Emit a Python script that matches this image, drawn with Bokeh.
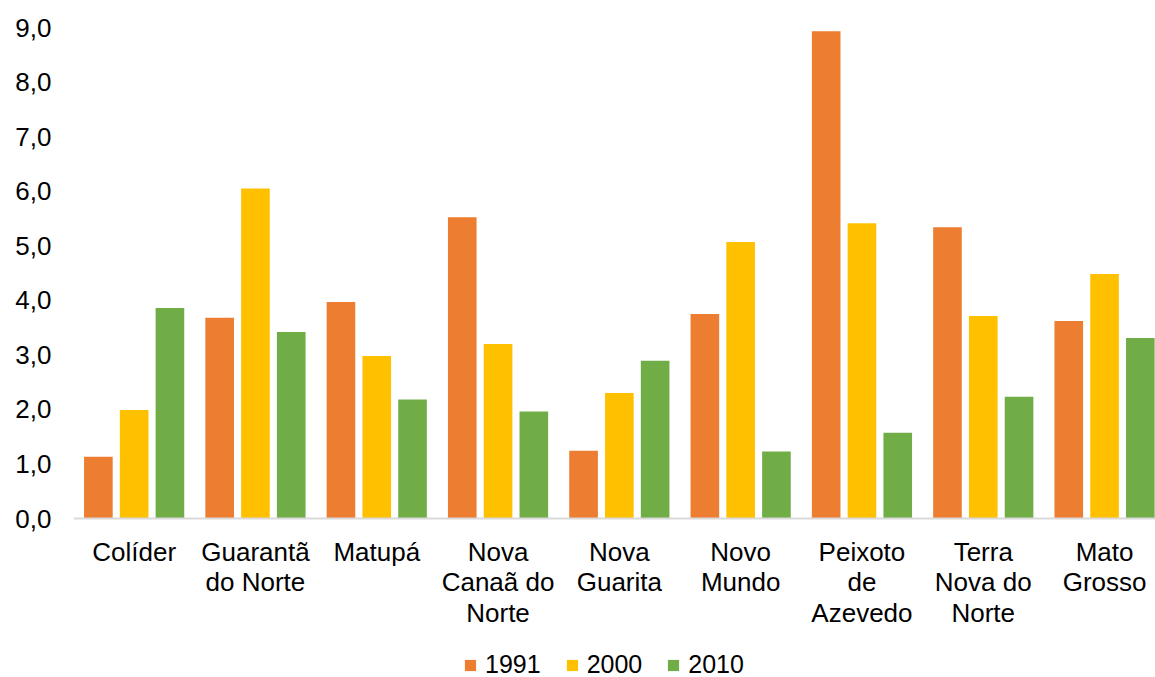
from bokeh.plotting import figure
from bokeh.models import (ColumnDataSource, Range1d, FixedTicker, CustomJSTickFormatter,
                          Legend, LegendItem, Span)
from bokeh.core.properties import value
from bokeh.transform import dodge
from bokeh.embed import file_html
from bokeh.resources import INLINE

# Municipalities (with line breaks as shown under the axis)
categories = ["Colíder", "Guarantã\ndo Norte", "Matupá", "Nova\nCanaã do\nNorte",
              "Nova\nGuarita", "Novo\nMundo", "Peixoto\nde\nAzevedo",
              "Terra\nNova do\nNorte", "Mato\nGrosso"]

values_1991 = [1.13, 3.68, 3.97, 5.52, 1.24, 3.75, 8.93, 5.34, 3.62]
values_2000 = [1.99, 6.05, 2.98, 3.20, 2.30, 5.07, 5.41, 3.71, 4.48]
values_2010 = [3.86, 3.42, 2.18, 1.96, 2.89, 1.23, 1.57, 2.23, 3.31]

y_ticks = [0, 1, 2, 3, 4, 5, 6, 7, 8, 9]

FONT = "Liberation Sans"
COLORS = {"1991": "#ED7D31", "2000": "#FFC000", "2010": "#70AD47"}

source = ColumnDataSource(dict(
    idx=list(range(len(categories))),
    zero=[0] * len(categories),
    name=categories,
    v1991=values_1991,
    v2000=values_2000,
    v2010=values_2010,
))

# The frame runs down to the bottom edge so that category names and the
# legend can sit beneath the baseline inside it.
p = figure(
    width=1155, height=677,
    x_range=Range1d(-0.5, 8.42), y_range=Range1d(-2.914, 9),
    output_backend="svg", toolbar_location=None,
    min_border_left=73, min_border_top=27, min_border_right=0, min_border_bottom=0,
    background_fill_color="white", border_fill_color="white",
    outline_line_color=None,
)

offset = 0.295
bar_w = 0.236
r1 = p.vbar(x=dodge("idx", -offset, range=p.x_range), top="v1991", width=bar_w,
            source=source, fill_color=COLORS["1991"], line_color=None)
r2 = p.vbar(x=dodge("idx", 0.0, range=p.x_range), top="v2000", width=bar_w,
            source=source, fill_color=COLORS["2000"], line_color=None)
r3 = p.vbar(x=dodge("idx", offset, range=p.x_range), top="v2010", width=bar_w,
            source=source, fill_color=COLORS["2010"], line_color=None)

p.xgrid.visible = False
p.ygrid.visible = False
p.xaxis.visible = False

# baseline of the category axis
p.add_layout(Span(location=0, dimension="width", line_color="#D9D9D9", line_width=2))

# category names under each group
p.text(x="idx", y="zero", text="name", source=source,
       text_align="center", text_baseline="top", y_offset=18,
       text_font=value(FONT), text_font_size="26px", text_color="black",
       text_line_height=1.03)

# y axis: decimal comma labels, no line
ya = p.yaxis[0]
ya.ticker = FixedTicker(ticks=y_ticks)
ya.formatter = CustomJSTickFormatter(code="return tick.toFixed(1).replace('.', ',');")
ya.axis_line_color = None
ya.major_tick_line_color = None
ya.minor_tick_line_color = None
ya.major_tick_out = 0
ya.major_label_standoff = 22
ya.major_label_text_font = FONT
ya.major_label_text_font_size = "26px"
ya.major_label_text_color = "black"

legend = Legend(
    items=[LegendItem(label="1991", renderers=[r1]),
           LegendItem(label="2000", renderers=[r2]),
           LegendItem(label="2010", renderers=[r3])],
    orientation="horizontal", location=(390, -2),
    glyph_width=14, glyph_height=14, label_standoff=8, spacing=24,
    label_text_font=FONT, label_text_font_size="25px", label_text_color="black",
    border_line_color=None, background_fill_alpha=0,
    padding=0, margin=0,
)
p.add_layout(legend, "center")

open("out.html", "w").write(file_html(p, INLINE))
